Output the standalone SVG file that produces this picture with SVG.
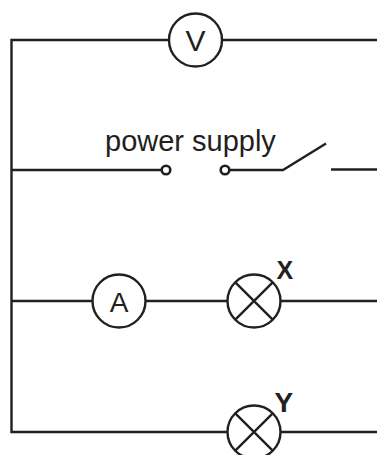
<svg xmlns="http://www.w3.org/2000/svg" width="377" height="455" viewBox="0 0 377 455">
<style>
.w{fill:none;stroke:#231f20;stroke-width:2.4;stroke-linejoin:miter;stroke-linecap:butt}
.c{fill:#fff;stroke:#231f20;stroke-width:2.4}
.k{fill:#fff;stroke:#231f20;stroke-width:2.6}
.t{font-family:"Liberation Sans",Arial,sans-serif;fill:#231f20}
.lb{font-family:"Liberation Sans",Arial,sans-serif;font-weight:bold;fill:#231f20}
</style>
<rect width="377" height="455" fill="#fff"/>
<g id="connectors">
<path class="w" d="M377 40 H11.5 V432 H377"/>
<path class="w" d="M11.5 170 H162"/>
<path class="w" d="M229 170 H283 L326 143.5"/>
<path class="w" d="M331 169.5 H377"/>
<path class="w" d="M11.5 301 H377"/>
</g>
<g id="voltmeter">
<circle class="c" cx="195.5" cy="40" r="26.5"/>
<text class="t" x="195.5" y="51" font-size="30" text-anchor="middle">V</text>
</g>
<g id="power-supply">
<circle class="k" cx="166" cy="170" r="4.3"/>
<circle class="k" cx="225" cy="170" r="4.3"/>
<text class="t" x="105" y="151" font-size="29">power supply</text>
</g>
<g id="ammeter">
<circle class="c" cx="119" cy="301" r="26.5"/>
<text class="t" x="119" y="311.5" font-size="28" text-anchor="middle">A</text>
</g>
<g id="lamp-x">
<circle class="c" cx="254" cy="301" r="26.5"/>
<path class="w" d="M235.3 282.3 L272.7 319.7 M272.7 282.3 L235.3 319.7"/>
<text class="lb" x="276.5" y="278.5" font-size="25">X</text>
</g>
<g id="lamp-y">
<circle class="c" cx="254" cy="432" r="26.5"/>
<path class="w" d="M235.3 413.3 L272.7 450.7 M272.7 413.3 L235.3 450.7"/>
<text class="lb" x="274.5" y="412" font-size="28">Y</text>
</g>
</svg>
